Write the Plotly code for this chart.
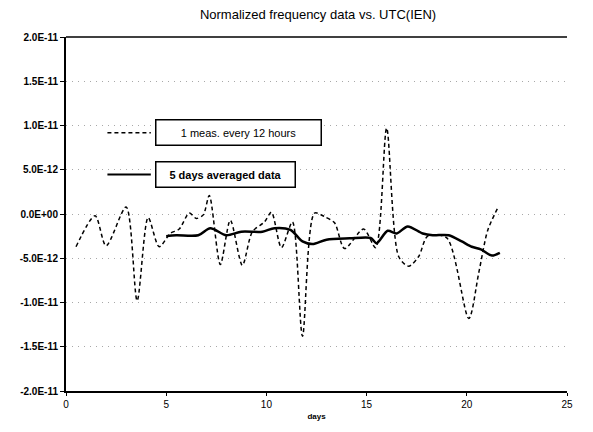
import plotly.graph_objects as go

# 1 measurement every 12 hours (days, value in units of 1E-12)
days_12h = [0.5, 1.45, 2.0, 3.0, 3.55, 4.1, 4.65, 5.2, 5.65, 6.15, 6.5, 6.85, 7.15, 7.7, 8.2, 8.8,
            9.3, 9.9, 10.25, 10.75, 11.3, 11.8, 12.4, 12.9, 13.4, 13.9, 14.85, 15.45, 16.0, 16.6,
            17.1, 17.6, 18.05, 19.0, 20.1, 20.6, 21.05, 21.55]
vals_12h = [-3.7, -0.2, -3.6, 0.8, -9.8, -0.4, -3.7, -2.2, -1.7, 0.1, -0.5, -0.1, 2.1, -5.7, -0.7, -5.8,
            -2.0, -0.9, 0.2, -3.8, -0.9, -13.8, 0.1, -0.3, -1.0, -3.9, -1.7, -3.8, 9.7, -4.8,
            -5.9, -4.8, -2.5, -2.7, -11.8, -6.6, -1.8, 0.7]

# 5 days averaged data
days_avg = [5.0, 5.5, 6.6, 7.2, 8.0, 8.75, 9.8, 10.4, 11.2, 11.8, 12.3, 13.0, 14.15, 15.2, 15.5,
            16.05, 16.5, 17.05, 17.8, 18.3, 19.1, 19.75, 20.25, 20.7, 21.25, 21.65]
vals_avg = [-2.5, -2.4, -2.4, -1.6, -2.4, -2.0, -2.0, -1.6, -1.8, -3.1, -3.4, -2.9, -2.75, -2.7, -3.3,
            -1.9, -2.2, -1.4, -2.2, -2.4, -2.4, -3.1, -3.7, -4.0, -4.7, -4.4]

ytick_vals = [2.0e-11, 1.5e-11, 1.0e-11, 5.0e-12, 0.0, -5.0e-12, -1.0e-11, -1.5e-11, -2.0e-11]
ytick_text = ["2.0E-11", "1.5E-11", "1.0E-11", "5.0E-12", "0.0E+00", "-5.0E-12", "-1.0E-11", "-1.5E-11", "-2.0E-11"]
xtick_vals = [0, 5, 10, 15, 20, 25]

legend_labels = ["1 meas. every 12 hours", "5 days averaged data"]

fig = go.Figure()
fig.add_trace(go.Scatter(
    x=days_12h, y=[v * 1e-12 for v in vals_12h], mode="lines",
    line=dict(color="black", width=1.5, dash="4px,3px", shape="spline", smoothing=0.8),
    name=legend_labels[0], showlegend=False))
fig.add_trace(go.Scatter(
    x=days_avg, y=[v * 1e-12 for v in vals_avg], mode="lines",
    line=dict(color="black", width=2.5, shape="spline", smoothing=0.8),
    name=legend_labels[1], showlegend=False))

font = "Liberation Sans, Arial, sans-serif"

# page body has an 8px margin; compensate in size/margins
W, H = 585, 424
fig.update_layout(
    width=W, height=H,
    margin=dict(l=50, r=26, t=29, b=40),
    paper_bgcolor="white", plot_bgcolor="white",
    title=dict(text="Normalized frequency data vs. UTC(IEN)", x=0.53, xanchor="center",
               y=1 - 6 / H, yanchor="middle", yref="container",
               font=dict(family=font, size=13, color="black")),
    xaxis=dict(range=[0, 25], tickvals=xtick_vals, showline=True, linecolor="black", linewidth=2,
               ticks="outside", ticklen=3, tickcolor="black", showgrid=False, zeroline=False,
               tickfont=dict(family=font, size=10, color="black"),
               tickprefix="<b>", ticksuffix="</b>",
               title=dict(text="<b>days</b>", font=dict(family=font, size=8, color="black"), standoff=4)),
    yaxis=dict(range=[-2.0e-11, 2.0e-11], tickvals=ytick_vals,
               ticktext=["<b>" + t + "</b>" for t in ytick_text],
               showline=True, linecolor="black", linewidth=2, ticks="outside", ticklen=4,
               tickcolor="black", showgrid=True, gridcolor="#a8a8a8", gridwidth=1, griddash="1px,5px",
               zeroline=False, tickfont=dict(family=font, size=10, color="black")),
)

# top border line
fig.add_shape(type="line", xref="paper", yref="paper", x0=0, x1=1, y0=1, y1=1,
              line=dict(color="black", width=1.5))

# legend-like boxes
fig.add_annotation(xref="paper", yref="paper", x=(234 - 59) / 508, y=(392 - 133) / 355,
                   text=legend_labels[0], showarrow=False, xanchor="center", yanchor="middle",
                   width=158, height=18, bordercolor="black", borderwidth=1.5, borderpad=3,
                   bgcolor="white", font=dict(family=font, size=11, color="black"))
fig.add_annotation(xref="paper", yref="paper", x=(221 - 59) / 508, y=(392 - 175) / 355,
                   text="<b>" + legend_labels[1] + "</b>", showarrow=False, xanchor="center", yanchor="middle",
                   width=132, height=18, bordercolor="black", borderwidth=1.5, borderpad=3,
                   bgcolor="white", font=dict(family=font, size=11, color="black"))
fig.add_shape(type="line", xref="paper", yref="paper", x0=(101 - 59) / 508, x1=(145 - 59) / 508,
              y0=(392 - 133) / 355, y1=(392 - 133) / 355,
              line=dict(color="black", width=1.5, dash="4px,3px"))
fig.add_shape(type="line", xref="paper", yref="paper", x0=(101 - 59) / 508, x1=(145 - 59) / 508,
              y0=(392 - 175) / 355, y1=(392 - 175) / 355,
              line=dict(color="black", width=2))

fig.write_html("out.html")
